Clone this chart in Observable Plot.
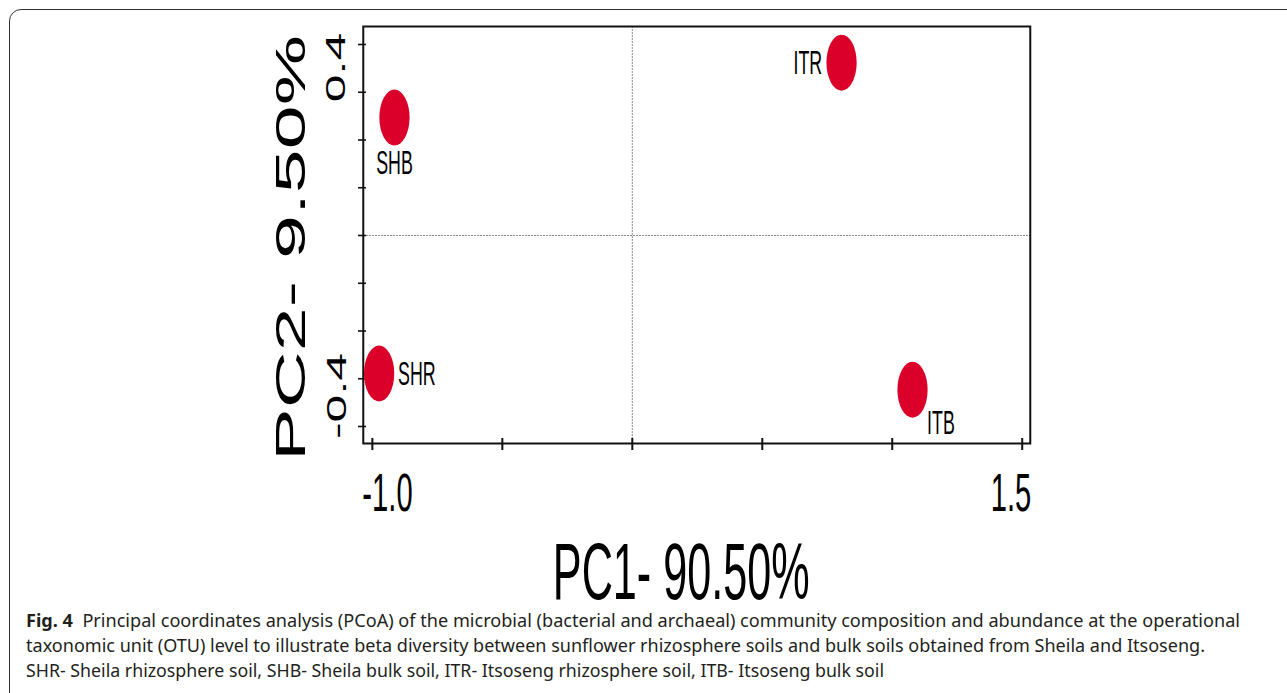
<!DOCTYPE html>
<html><head><meta charset="utf-8">
<script src="https://cdn.jsdelivr.net/npm/d3@7"></script>
<script src="https://cdn.jsdelivr.net/npm/@observablehq/plot@0.6"></script>
<style>
html,body{margin:0;padding:0;background:#fff;width:1287px;height:693px;overflow:hidden;}
#page{position:relative;width:1287px;height:693px;overflow:hidden;}
#box{position:absolute;left:9px;top:9px;width:1320px;height:700px;border:1px solid #333;border-radius:12px;box-sizing:border-box;}
#chart{position:absolute;left:0;top:0;}
#caption{position:absolute;left:26px;top:608px;font-family:"Noto Sans","Open Sans",sans-serif;font-size:17.5px;line-height:25px;color:#231f20;}
#caption .l{white-space:pre;transform-origin:0 0;width:max-content;}
</style></head>
<body><div id="page"><div id="box"></div><div id="chart"></div>
<div id="caption">
<div class="l" data-w="1214"><b>Fig. 4</b>  Principal coordinates analysis (PCoA) of the microbial (bacterial and archaeal) community composition and abundance at the operational</div>
<div class="l" data-w="1179">taxonomic unit (OTU) level to illustrate beta diversity between sunflower rhizosphere soils and bulk soils obtained from Sheila and Itsoseng.</div>
<div class="l" data-w="858">SHR- Sheila rhizosphere soil, SHB- Sheila bulk soil, ITR- Itsoseng rhizosphere soil, ITB- Itsoseng bulk soil</div>
</div></div>
<script>
// ---- data ----
const samples = ["SHB", "SHR", "ITR", "ITB"];
const pc1 = [-0.915, -0.974, 0.805, 1.078];
const pc2 = [0.247, -0.289, 0.362, -0.323];
const xTicks = [-1.0, -0.5, 0, 0.5, 1.0, 1.5];
const yTicks = [0.4, 0.3, 0.2, 0.1, 0, -0.1, -0.2, -0.3, -0.4];
const xTickLabels = [-1.0, 1.5];
const yTickLabels = [0.4, -0.4];
const xTitle = "PC1- 90.50%";
const yTitle = "PC2- 9.50%";

// ---- layout / style ----
const s = 0.54;              // horizontal squash of the original figure
const SW = 1287, H = 610;
const W = SW / s;
const frameL = 363, frameR = 1030, frameT = 26, frameB = 443;
const font = "'Liberation Sans', Arial, sans-serif";
const red = "#da0029";
const labelStyle = {
  SHB: {textAnchor: "middle", lineAnchor: "bottom", dx: 0, dy: 56},
  SHR: {textAnchor: "start", lineAnchor: "middle", dx: 35, dy: 1},
  ITR: {textAnchor: "end", lineAnchor: "middle", dx: -36, dy: 1},
  ITB: {textAnchor: "start", lineAnchor: "bottom", dx: 27, dy: 44}
};

const pts = samples.map((name, i) => ({name, pc1: pc1[i], pc2: pc2[i]}));

const plot = Plot.plot({
  width: W, height: H,
  marginLeft: frameL / s, marginRight: (SW - frameR) / s,
  marginTop: frameT, marginBottom: H - frameB,
  style: {fontFamily: font, background: "transparent", color: "#000", overflow: "visible"},
  x: {domain: [-1.035, 1.531], label: null},
  y: {domain: [-0.4356, 0.4377], label: null},
  marks: [
    Plot.ruleX([0], {stroke: "#8a8a8a", strokeWidth: 1, strokeDasharray: "2,1"}),
    Plot.ruleY([0], {stroke: "#8a8a8a", strokeWidth: 1, strokeDasharray: "2,1"}),
    Plot.frame({stroke: "#111", strokeWidth: 2}),
    Plot.axisX(xTicks, {tickSize: 12, dy: -5, tickFormat: () => "", stroke: "#111", strokeWidth: 2, label: null}),
    Plot.axisY(yTicks, {tickSize: 8 / s, dx: 3 / s, tickFormat: () => "", stroke: "#111", strokeWidth: 1.6, label: null}),
    Plot.text(xTickLabels.filter(d => d < 0), {x: d => d, text: d => d.toFixed(1), frameAnchor: "bottom", textAnchor: "start", lineAnchor: "bottom", dx: -10 / s, dy: 67, fontSize: 54, fill: "#000"}),
    Plot.text(xTickLabels.filter(d => d > 0), {x: d => d, text: d => d.toFixed(1), frameAnchor: "bottom", textAnchor: "end", lineAnchor: "bottom", dx: 9 / s, dy: 67, fontSize: 54, fill: "#000"}),
    Plot.text(yTickLabels.filter(d => d > 0), {y: d => d, text: d => d.toFixed(1), frameAnchor: "left", rotate: -90, textAnchor: "middle", lineAnchor: "middle", dx: -27 / s, dy: 23, fontSize: 50, fill: "#000"}),
    Plot.text(yTickLabels.filter(d => d < 0), {y: d => d, text: d => d.toFixed(1), frameAnchor: "left", rotate: -90, textAnchor: "middle", lineAnchor: "middle", dx: -26 / s, dy: -30.5, fontSize: 50, fill: "#000"}),
    Plot.text([xTitle], {frameAnchor: "bottom", textAnchor: "middle", lineAnchor: "bottom", dx: -15.5 / s, dy: 155, fontSize: 80, fill: "#000"}),
    Plot.text([yTitle], {frameAnchor: "left", rotate: -90, textAnchor: "middle", lineAnchor: "middle", dx: (291 - frameL) / s, dy: 13, fontSize: 79, fill: "#000"}),
    Plot.dot(pts, {x: "pc1", y: "pc2", r: 28, fill: red, stroke: null}),
    ...samples.map(n => Plot.text(pts.filter(d => d.name === n), {x: "pc1", y: "pc2", text: "name", fontSize: 33, fill: "#000", ...labelStyle[n]}))
  ]
});

plot.setAttribute("width", SW);
plot.setAttribute("height", H);
plot.setAttribute("preserveAspectRatio", "none");
plot.style.width = SW + "px";
plot.style.height = H + "px";
plot.style.maxWidth = "none";
plot.querySelectorAll("path, line, rect").forEach(el => el.setAttribute("vector-effect", "non-scaling-stroke"));
document.getElementById("chart").appendChild(plot);

// fit caption lines to the original line lengths
document.querySelectorAll("#caption .l").forEach(div => {
  const w = div.getBoundingClientRect().width;
  const target = +div.dataset.w;
  div.style.transform = `scaleX(${target / w})`;
});
</script>
</body></html>
